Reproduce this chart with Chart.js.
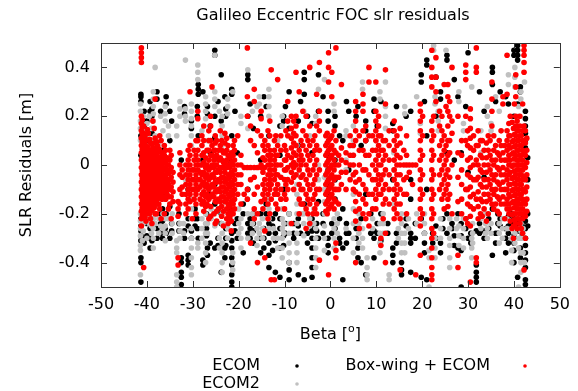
<!DOCTYPE html>
<html>
<head>
<meta charset="utf-8">
<script src="https://cdn.jsdelivr.net/npm/chart.js@4.4.1/dist/chart.umd.min.js"></script>
<style>
    html, body { margin: 0; padding: 0; background: #fff; }
    #wrap { width: 578px; height: 391px; }
</style>
</head>
<body>
<div id="wrap"><canvas id="slrChart" width="578" height="391"></canvas></div>
<script>
// tick values
const xTicks = [-50, -40, -30, -20, -10, 0, 10, 20, 30, 40, 50];
const yTicks = [-0.4, -0.2, 0, 0.2, 0.4];

// each stripe: [beta, residual, residual, ...] (one pass at about the same beta)
const ecomStripes = [
    [-41.3, 0.29, 0.28, 0.26, 0.12, 0.04, -0.22, -0.25, -0.27, -0.29, -0.31, -0.38, -0.4, -0.48],
    [-40.6, 0.22, 0.16, -0.18, -0.21, -0.3, -0.32],
    [-40.0, 0.18, 0.1, 0.0, -0.1, -0.14, -0.2, -0.24, -0.29],
    [-39.3, 0.26, 0.22, -0.26, -0.3, -0.34],
    [-38.9, 0.23, 0.2, 0.13, -0.16, -0.22, -0.31],
    [-37.8, 0.3, 0.27, 0.09, -0.14, -0.26, -0.3],
    [-37.0, 0.22, -0.2, -0.24, -0.28],
    [-36.6, 0.06, -0.18, -0.23, -0.3],
    [-36.0, -0.12, -0.26],
    [-35.8, 0.28, 0.25, -0.2, -0.28],
    [-35.0, 0.22, 0.1, -0.17, -0.3],
    [-34.6, 0.18, -0.24, -0.27],
    [-33.0, -0.2, -0.24, -0.27],
    [-32.5, 0.02, -0.38, -0.4, -0.44, -0.46, -0.49],
    [-31.8, 0.24, 0.21, -0.27, -0.3],
    [-31.0, -0.1, -0.22, -0.25, -0.37, -0.39, -0.41],
    [-30.3, 0.18, 0.15, -0.27, -0.3],
    [-29.5, -0.18, -0.22, -0.25],
    [-29.0, 0.24, 0.2, -0.22, -0.26],
    [-28.8, 0.33, 0.31, 0.29, 0.12, -0.3],
    [-27.8, 0.3, 0.02, -0.39, -0.41],
    [-27.0, -0.2, -0.26, -0.29],
    [-26.8, 0.24, 0.21, -0.34, -0.37],
    [-26.2, 0.16, 0.05, -0.12, -0.32],
    [-25.2, 0.47, 0.45, 0.2, 0.11, -0.08, -0.16, -0.34],
    [-24.5, 0.26, -0.3, -0.33],
    [-23.8, 0.37, 0.18, -0.2, -0.24, -0.44],
    [-23.0, 0.28, -0.34, -0.38],
    [-22.8, 0.23, 0.2, -0.26, -0.3, -0.33],
    [-22.0, 0.02, -0.18, -0.22],
    [-21.5, 0.31, 0.29, 0.12, -0.28, -0.31, -0.34, -0.38, -0.41, -0.45, -0.48, -0.5],
    [-20.8, 0.22, -0.24, -0.27],
    [-20.3, 0.05, -0.22, -0.3],
    [-19.0, -0.16, -0.2, -0.36],
    [-18.0, 0.37, 0.35, 0.2, -0.1, -0.24, -0.28],
    [-17.5, 0.25, -0.22, -0.26, -0.3],
    [-16.8, 0.15, -0.2, -0.24, -0.27, -0.32],
    [-15.2, 0.2, 0.02, -0.2, -0.3, -0.36],
    [-14.5, 0.28, -0.26, -0.3, -0.34],
    [-14.0, 0.24, -0.16, -0.2],
    [-13.4, 0.12, -0.24, -0.28, -0.32, -0.37, -0.42],
    [-12.6, -0.22, -0.25, -0.35],
    [-12.0, -0.2, -0.28, -0.31, -0.44],
    [-11.0, 0.16, 0.04, -0.22, -0.26, -0.34, -0.46],
    [-10.2, 0.2, 0.18, -0.1, -0.29, -0.33],
    [-9.8, 0.24, -0.24, -0.28],
    [-9.0, 0.3, 0.15, -0.2, -0.4, -0.43, -0.47],
    [-8.0, -0.24, -0.28, -0.3],
    [-7.0, 0.18, 0.08, -0.22, -0.25, -0.45],
    [-6.5, 0.26, -0.28],
    [-5.7, 0.38, 0.35, 0.29, -0.16, -0.47],
    [-5.0, 0.2, -0.28, -0.32],
    [-4.0, 0.17, 0.05, -0.22, -0.25, -0.27, -0.3, -0.34, -0.38, -0.42, -0.46],
    [-3.0, -0.24, -0.27, -0.3],
    [-2.6, 0.37, 0.22, -0.15, -0.3],
    [-1.6, 0.28, -0.2, -0.24, -0.28],
    [-0.5, 0.22, 0.18, 0.04, -0.02, -0.08, -0.12, -0.3, -0.33, -0.36],
    [0.3, -0.24, -0.28],
    [1.0, 0.2, 0.16, 0.02, -0.06, -0.14, -0.26],
    [2.0, 0.12, -0.22, -0.3, -0.32],
    [2.7, 0.1, -0.18, -0.34, -0.47],
    [3.5, 0.26, -0.24, -0.28, -0.32],
    [4.0, 0.22, -0.02, -0.28],
    [5.6, 0.2, -0.26, -0.3],
    [6.0, 0.24, -0.34, -0.38],
    [6.7, 0.08, -0.22, -0.4],
    [7.7, 0.18, 0.14, 0.1, -0.12, -0.45],
    [8.8, -0.2, -0.28],
    [9.5, 0.27, 0.22, -0.27, -0.3, -0.38],
    [10.2, 0.16, -0.24, -0.28],
    [11.0, 0.26, -0.2, -0.31],
    [12.5, -0.24, -0.28],
    [13.6, 0.17, 0.14, -0.06, -0.34, -0.37, -0.4],
    [14.4, 0.24, -0.28, -0.32],
    [15.5, -0.4, -0.43, -0.45],
    [16.5, 0.2, -0.22, -0.25],
    [17.5, 0.22, -0.06, -0.14, -0.28, -0.3, -0.32, -0.44],
    [18.5, -0.24, -0.3],
    [19.8, 0.37, 0.34, -0.22, -0.46],
    [20.5, 0.26, -0.28, -0.32, -0.36],
    [21.0, 0.43, 0.41, 0.12, -0.1, -0.47],
    [22.3, -0.28, -0.32],
    [23.0, 0.36, 0.2, -0.25, -0.3],
    [24.0, 0.3, 0.27, -0.32, -0.36],
    [24.5, -0.22, -0.26],
    [25.4, 0.45, 0.43, 0.05, -0.2, -0.28],
    [26.5, -0.24, -0.26],
    [27.0, 0.35, 0.02, -0.29, -0.33],
    [27.8, 0.28, -0.2, -0.34],
    [28.5, 0.05, -0.24, -0.29, -0.35, -0.5],
    [29.5, 0.24, -0.22, -0.26],
    [30.0, 0.46, -0.03, -0.3],
    [30.6, -0.28, -0.32],
    [31.8, -0.27, -0.41, -0.44, -0.46, -0.48],
    [32.5, 0.3, -0.24, -0.28],
    [33.5, 0.22, -0.05, -0.27, -0.3],
    [34.5, -0.22, -0.26],
    [35.3, 0.4, 0.38, 0.33, -0.18, -0.37],
    [36.0, 0.26, -0.28, -0.32],
    [36.5, -0.2, -0.24, -0.28],
    [37.0, 0.3, -0.22, -0.25],
    [38.2, 0.28, -0.26, -0.3, -0.36],
    [38.8, 0.25, -0.21, -0.25, -0.28, -0.32],
    [39.4, -0.2, -0.24],
    [40.0, 0.47, 0.45, 0.2, -0.22, -0.29, -0.32, -0.35, -0.4],
    [40.8, 0.49, 0.47, 0.45, 0.43, 0.25, -0.24, -0.27, -0.46],
    [41.4, 0.32, 0.3, -0.3, -0.34, -0.38],
    [41.8, -0.22, -0.25, -0.28, -0.3],
    [42.5, 0.22, 0.19, 0.16, 0.13, 0.1, 0.07, -0.23, -0.26, -0.3, -0.33, -0.36, -0.39, -0.42, -0.47, -0.49],
    [43.0, 0.03, -0.06, -0.2, -0.25]
];

const ecom2Stripes = [
    [-41.4, 0.25, 0.22, 0.18, 0.15, 0.1, -0.2, -0.23, -0.26, -0.29, -0.33, -0.35, -0.45],
    [-41.0, -0.18, -0.22, -0.31],
    [-40.8, 0.2, 0.14, 0.08, -0.16, -0.24, -0.27],
    [-40.0, 0.17, 0.12, -0.22, -0.3],
    [-39.5, 0.2, -0.2, -0.24],
    [-39.0, 0.15, 0.1, -0.18, -0.25, -0.28],
    [-38.6, 0.3, 0.27, 0.24, 0.21, 0.18, -0.22, -0.26, -0.3, -0.34],
    [-38.2, 0.4, 0.12, -0.2, -0.24],
    [-37.4, 0.08, -0.17, -0.22, -0.28],
    [-37.0, 0.2, -0.25],
    [-36.5, 0.14, -0.2, -0.26],
    [-36.0, 0.24, 0.21, 0.18, -0.22, -0.25, -0.28, -0.31],
    [-35.3, 0.16, 0.12, -0.22],
    [-34.5, -0.2, -0.24, -0.28],
    [-33.5, 0.16, 0.12, -0.31, -0.34, -0.36, -0.45, -0.48, -0.5],
    [-32.8, 0.26, 0.23, 0.2, -0.24, -0.27, -0.3],
    [-32.0, -0.24, -0.28],
    [-31.6, 0.43, 0.23, 0.2, 0.18, -0.06],
    [-30.3, 0.25, 0.22, 0.19, 0.16, 0.12, 0.08, -0.14, -0.18, -0.22, -0.26, -0.3, -0.34, -0.38, -0.42, -0.45],
    [-28.9, 0.41, 0.38, 0.35, -0.32, -0.34],
    [-28.0, 0.14, -0.22, -0.26, -0.3],
    [-27.2, 0.28, 0.25, 0.22, 0.19, -0.2, -0.24, -0.28, -0.32, -0.36, -0.4],
    [-26.8, 0.1, -0.24, -0.28],
    [-26.0, -0.18, -0.22],
    [-25.2, 0.45, 0.3, 0.27, 0.24, -0.2, -0.25],
    [-24.2, 0.22, -0.3, -0.34],
    [-23.6, 0.2, 0.16, 0.12, 0.08, -0.12, -0.16, -0.2, -0.24, -0.28, -0.32, -0.36, -0.4, -0.44],
    [-22.4, 0.27, 0.24, 0.21, -0.22, -0.26, -0.3],
    [-21.3, 0.3, -0.36, -0.4, -0.43],
    [-20.0, -0.18, -0.24, -0.28],
    [-19.5, 0.2, 0.17, -0.22, -0.26, -0.3, -0.34],
    [-18.0, 0.39, 0.15, -0.2, -0.3],
    [-17.0, 0.22, -0.2, -0.24, -0.28],
    [-16.0, 0.24, -0.26, -0.3, -0.33],
    [-15.5, 0.28, 0.25, -0.24, -0.28],
    [-14.8, -0.22, -0.26, -0.3],
    [-13.4, 0.31, 0.28, 0.24, 0.2, -0.14, -0.18, -0.22, -0.26],
    [-12.4, -0.26, -0.3],
    [-11.5, 0.1, -0.3, -0.34],
    [-10.5, 0.2, 0.16, -0.18, -0.22, -0.26, -0.3, -0.34, -0.38],
    [-10.2, -0.24, -0.28],
    [-9.0, 0.12, -0.2, -0.24, -0.28, -0.32, -0.36, -0.4],
    [-7.3, 0.08, 0.04, 0.0, -0.04, -0.08, -0.12, -0.16, -0.2, -0.24, -0.28, -0.32, -0.36, -0.4],
    [-6.2, -0.16, -0.2],
    [-5.8, 0.22, -0.2, -0.24, -0.29],
    [-4.5, 0.12, -0.1, -0.22, -0.25],
    [-3.6, -0.18, -0.24],
    [-3.2, 0.2, 0.17, -0.26, -0.3, -0.34, -0.38, -0.42],
    [-2.6, 0.31, 0.06, 0.0, -0.06],
    [-1.3, 0.35, -0.05, -0.1, -0.15, -0.2, -0.25, -0.3, -0.35],
    [0.8, 0.25, 0.22, -0.22, -0.26, -0.3, -0.34],
    [1.5, -0.2, -0.24, -0.28],
    [3.4, 0.14, 0.12, 0.02, -0.02, -0.26],
    [5.0, 0.16, 0.1, 0.04, -0.04, -0.12, -0.18, -0.24, -0.3, -0.36],
    [6.2, -0.2, -0.24, -0.28, -0.32],
    [7.0, 0.34, 0.31, -0.26, -0.3, -0.34],
    [8.0, -0.38, -0.42, -0.45, -0.47],
    [9.2, -0.22, -0.26],
    [10.0, 0.1, 0.06, 0.02],
    [10.8, 0.3, 0.27, -0.24, -0.28, -0.32, -0.36],
    [11.5, -0.2, -0.24, -0.28],
    [12.0, 0.34, 0.24, 0.2, 0.15],
    [12.8, -0.45, -0.47],
    [13.8, 0.05, -0.02, -0.1, -0.16],
    [14.8, -0.26, -0.3],
    [15.5, -0.2, -0.24, -0.28, -0.32, -0.36],
    [16.2, 0.24, 0.21, -0.28, -0.32, -0.36],
    [17.0, -0.22, -0.26],
    [18.8, 0.28, -0.2, -0.24],
    [19.6, 0.17, 0.13],
    [20.5, -0.2, -0.24, -0.28],
    [21.5, -0.35, -0.38, -0.5],
    [22.5, 0.49, 0.47],
    [22.8, 0.28, 0.25, -0.3, -0.34, -0.38],
    [23.5, 0.22, 0.18, 0.14],
    [24.0, -0.22, -0.26, -0.3],
    [25.2, 0.47],
    [26.0, -0.22, -0.26, -0.3, -0.33, -0.38, -0.42],
    [27.5, -0.22, -0.26],
    [28.0, 0.3, 0.26, -0.25, -0.29, -0.33],
    [29.0, 0.17, 0.14, -0.22, -0.26, -0.3, -0.34],
    [30.8, 0.32, -0.3, -0.34, -0.38],
    [31.0, -0.24, -0.28, -0.32],
    [32.8, 0.14, 0.1, 0.05, -0.22, -0.26],
    [33.8, -0.2, -0.24, -0.28],
    [34.2, 0.24, 0.2, -0.26, -0.3],
    [35.0, 0.17, 0.14, -0.24, -0.28],
    [36.0, 0.28],
    [36.8, 0.22, -0.24, -0.28, -0.32],
    [37.5, -0.22, -0.26, -0.3],
    [38.5, -0.22, -0.26],
    [38.8, 0.37, 0.33],
    [39.5, -0.26, -0.3, -0.35, -0.4],
    [40.2, 0.4, 0.36, 0.32, -0.28, -0.32],
    [41.0, 0.24, 0.2, -0.3, -0.34, -0.5],
    [41.5, 0.3, 0.27, -0.24, -0.27, -0.3, -0.36, -0.4, -0.44],
    [42.0, -0.26, -0.3, -0.36],
    [42.3, 0.34, -0.1, -0.2, -0.4]
];

const boxwingStripes = [
    [-41.2, 0.48, 0.46, 0.44, 0.42, 0.2, 0.17, 0.14, 0.11, 0.08, 0.05, 0.02, -0.01, -0.04, -0.07, -0.1, -0.13, -0.16, -0.19, -0.22, -0.25],
    [-41.0, 0.185, 0.155, 0.125, 0.095, 0.065, 0.035, 0.005, -0.025, -0.055, -0.085, -0.115, -0.145, -0.175, -0.205],
    [-40.7, 0.16, 0.13, 0.1, 0.07, 0.04, 0.01, -0.02, -0.05, -0.08, -0.11, -0.14, -0.17, -0.2, -0.42],
    [-40.4, 0.115, 0.085, 0.055, 0.025, -0.005, -0.035, -0.065, -0.095, -0.125, -0.155, -0.185, -0.215],
    [-40.2, 0.1, 0.07, 0.04, 0.01, -0.02, -0.05, -0.08, -0.11, -0.14, -0.17, -0.2, -0.23],
    [-39.9, 0.145, 0.075, 0.045, 0.015, -0.015, -0.045, -0.075, -0.105, -0.135, -0.165],
    [-39.7, 0.13, 0.06, 0.03, 0.0, -0.03, -0.06, -0.09, -0.12, -0.15, -0.18],
    [-39.4, 0.105, 0.045, 0.015, -0.015, -0.045, -0.075, -0.105, -0.135, -0.165, -0.2],
    [-39.2, 0.09, 0.06, 0.03, 0.0, -0.03, -0.06, -0.09, -0.12, -0.15, -0.19, -0.22],
    [-38.9, 0.085, 0.055, 0.025, -0.005, -0.035, -0.065, -0.095, -0.125, -0.155, -0.185, -0.24],
    [-38.7, 0.18, 0.07, 0.04, 0.01, -0.02, -0.05, -0.08, -0.11, -0.14, -0.17],
    [-38.4, 0.15, 0.09, 0.065, 0.035, 0.005, -0.025, -0.055, -0.085, -0.115, -0.145, -0.175],
    [-38.2, 0.27, 0.11, 0.05, 0.02, -0.01, -0.04, -0.07, -0.1, -0.13, -0.16, -0.2],
    [-37.9, 0.095, 0.035, 0.005, -0.025, -0.055, -0.085, -0.115, -0.145, -0.2],
    [-37.7, 0.08, 0.05, 0.02, -0.01, -0.04, -0.07, -0.1, -0.13, -0.16],
    [-37.4, 0.065, 0.015, -0.015, -0.045, -0.075, -0.105, -0.135, -0.16],
    [-37.2, 0.12, 0.06, 0.03, 0.0, -0.03, -0.06, -0.09, -0.12, -0.18],
    [-36.9, 0.1, 0.035, 0.005, -0.025, -0.055, -0.085, -0.115, -0.22],
    [-36.7, 0.05, 0.02, -0.01, -0.04, -0.07, -0.1, -0.14],
    [-36.4, 0.02, -0.01, -0.04, -0.07, -0.1, -0.13],
    [-36.2, 0.08, 0.04, 0.01, -0.02, -0.05, -0.08, -0.11, -0.2],
    [-35.9, 0.06, 0.015, -0.015, -0.045, -0.075, -0.105, -0.14],
    [-35.6, 0.03, 0.0, -0.03, -0.06, -0.09, -0.12],
    [-35.3, 0.0, -0.035, -0.08, -0.13, -0.18],
    [-35.0, 0.06, 0.02, -0.02, -0.06, -0.1, -0.16],
    [-34.7, 0.04, -0.01, -0.05, -0.09, -0.13, -0.22],
    [-34.3, -0.03, -0.07, -0.11, -0.15],
    [-33.2, -0.15, -0.18, -0.21, -0.38, -0.41],
    [-32.8, 0.05, 0.0, -0.04, -0.1, -0.16],
    [-32.3, -0.02, -0.05, -0.09, -0.12],
    [-31.5, 0.0, -0.04, -0.08, -0.12, -0.16, -0.2],
    [-31.0, 0.06, 0.02, -0.02, -0.06, -0.1, -0.14, -0.18],
    [-30.6, 0.3, 0.08, 0.04, 0.0, -0.04, -0.08, -0.12, -0.15],
    [-30.1, -0.02, -0.06, -0.1, -0.22],
    [-29.7, 0.06, 0.02, -0.02, -0.06, -0.1, -0.14],
    [-29.3, 0.1, 0.04, 0.0, -0.04, -0.08, -0.12, -0.16, -0.2],
    [-28.9, 0.22, 0.19, 0.1, 0.06, 0.02, -0.02, -0.06, -0.1],
    [-28.4, 0.0, -0.03, -0.06, -0.09, -0.14],
    [-28.0, 0.12, 0.08, 0.04, 0.0, -0.04, -0.08, -0.12, -0.16],
    [-27.6, 0.16, 0.1, 0.05, 0.01, -0.03, -0.07, -0.11, -0.15, -0.19],
    [-27.2, 0.03, -0.01, -0.05, -0.09, -0.13, -0.17],
    [-26.9, 0.06, 0.0, -0.04, -0.08, -0.12, -0.16],
    [-26.5, 0.14, 0.1, 0.06, 0.02, -0.02, -0.06, -0.1, -0.14, -0.22],
    [-26.1, 0.2, 0.16, 0.1, 0.04, -0.01, -0.05, -0.09, -0.13, -0.17, -0.21],
    [-25.8, 0.32, 0.08, 0.04, 0.0, -0.04, -0.08, -0.12],
    [-25.4, 0.06, 0.02, -0.01, -0.05, -0.09, -0.13, -0.2],
    [-25.1, 0.12, 0.09, 0.06, 0.03, 0.0, -0.03, -0.07, -0.11, -0.15, -0.24],
    [-24.8, 0.1, 0.04, 0.0, -0.03, -0.07, -0.11, -0.15, -0.19, -0.23],
    [-24.4, 0.06, 0.02, -0.02, -0.06, -0.1, -0.14, -0.18],
    [-24.0, 0.14, 0.08, 0.03, -0.01, -0.03, -0.07, -0.11, -0.15],
    [-23.7, 0.1, 0.06, 0.02, -0.01, -0.05, -0.09, -0.13, -0.17, -0.21],
    [-23.3, 0.05, 0.01, -0.01, -0.05, -0.09, -0.13, -0.19, -0.25],
    [-23.0, 0.13, 0.09, 0.05, 0.01, -0.03, -0.07, -0.11, -0.15],
    [-22.6, 0.11, 0.06, 0.02, -0.01, -0.06, -0.1, -0.14, -0.18, -0.22],
    [-22.3, 0.08, 0.04, 0.0, -0.04, -0.08, -0.12, -0.16, -0.2, -0.24],
    [-21.9, 0.03, -0.01, -0.05, -0.09, -0.13, -0.17, -0.21],
    [-21.6, 0.05, 0.01, -0.03, -0.07, -0.11, -0.15, -0.19, -0.23, -0.27],
    [-21.2, 0.08, 0.04, 0.0, -0.04, -0.08, -0.12, -0.16, -0.2],
    [-20.9, 0.1, 0.06, 0.02, -0.02, -0.06, -0.1, -0.14, -0.18],
    [-20.2, 0.12, 0.0, -0.04, -0.08, -0.12],
    [-19.5, 0.04, 0.0, -0.04, -0.08, -0.16],
    [-18.8, -0.01, -0.12],
    [-18.1, 0.48, 0.28, 0.2, -0.01, -0.1, -0.14],
    [-17.4, 0.16, 0.1, -0.01, -0.06, -0.32],
    [-16.6, 0.31, 0.26, 0.08, -0.01, -0.05, -0.12, -0.18, -0.22],
    [-15.9, 0.14, 0.05, -0.01, -0.09, -0.2, -0.4],
    [-15.1, 0.22, 0.19, 0.12, 0.0, -0.01, -0.15],
    [-14.7, 0.08, 0.03, -0.03, -0.08, -0.12, -0.18],
    [-14.3, 0.1, 0.06, 0.02, -0.01, -0.06, -0.1, -0.14, -0.27, -0.38],
    [-13.6, 0.14, 0.08, 0.04, 0.0, -0.04, -0.08, -0.12, -0.16, -0.22],
    [-13.2, 0.18, 0.12, 0.06, 0.02, -0.02, -0.06, -0.1, -0.2],
    [-12.9, 0.39, 0.04, 0.0, -0.04, -0.08, -0.14, -0.47],
    [-12.2, 0.1, 0.06, 0.02, -0.02, -0.06, -0.12, -0.47],
    [-11.9, 0.12, 0.04, 0.0, -0.04, -0.1, -0.16],
    [-11.5, 0.35, 0.08, 0.04, 0.0, -0.04, -0.08, -0.12, -0.18],
    [-10.8, 0.12, 0.06, 0.0, -0.05, -0.1, -0.14],
    [-10.0, 0.08, 0.02, -0.02, -0.06, -0.12, -0.18],
    [-9.7, 0.14, 0.06, 0.02, -0.02, -0.08, -0.14],
    [-9.3, 0.26, 0.18, 0.12, 0.04, -0.01, -0.06, -0.1],
    [-8.5, 0.2, 0.15, 0.11, 0.07, 0.03, 0.0, -0.03, -0.07, -0.24],
    [-8.0, 0.18, 0.13, 0.09, 0.05, 0.01, -0.01, -0.05, -0.1],
    [-7.5, 0.38, 0.2, 0.16, 0.12, 0.08, 0.04, 0.0, -0.04],
    [-6.8, 0.3, 0.06, 0.02, -0.02, -0.08, -0.14, -0.2],
    [-6.4, 0.1, 0.04, 0.0, -0.05, -0.1, -0.16],
    [-6.0, 0.22, 0.14, 0.08, 0.02, -0.04, -0.1, -0.16],
    [-5.3, 0.2, 0.12, 0.06, 0.0, -0.06, -0.12, -0.18, -0.26],
    [-4.9, 0.1, 0.04, -0.02, -0.08, -0.14, -0.2],
    [-4.5, 0.4, 0.16, 0.08, 0.02, -0.04, -0.1, -0.16, -0.24],
    [-3.8, 0.1, 0.04, -0.02, -0.08, -0.14, -0.2],
    [-3.4, 0.12, 0.06, 0.0, -0.06, -0.12, -0.18],
    [-3.0, 0.29, 0.16, 0.08, 0.02, -0.04, -0.1, -0.16, -0.2],
    [-2.4, 0.42, 0.22, 0.18, 0.14, 0.06, -0.02, -0.1, -0.39],
    [-1.0, 0.12, 0.08, 0.04, 0.0, -0.04, -0.08, -0.12, -0.16, -0.19],
    [-0.7, 0.13, 0.09, 0.05, 0.01, -0.03, -0.07, -0.11, -0.15, -0.2],
    [-0.4, 0.46, 0.4, 0.34, 0.1, 0.06, 0.02, -0.02, -0.06, -0.1, -0.14, -0.18, -0.45],
    [0.0, 0.11, 0.07, 0.03, -0.01, -0.05, -0.09, -0.13, -0.17],
    [0.3, 0.38, 0.28, 0.12, 0.08, 0.04, 0.0, -0.04, -0.08, -0.12, -0.16],
    [0.8, 0.14, 0.06, 0.02, -0.02, -0.06, -0.1, -0.14, -0.18],
    [1.2, 0.48, 0.1, 0.05, 0.0, -0.05, -0.1, -0.15, -0.32, -0.35, -0.38],
    [1.8, 0.04, 0.0, -0.05, -0.1, -0.16],
    [2.4, 0.33, 0.07, 0.02, -0.03, -0.08],
    [3.4, 0.05, 0.01, -0.03, -0.1],
    [4.3, 0.12, 0.08, 0.04, 0.0, -0.06],
    [5.0, 0.08, 0.04, 0.0, -0.04, -0.1],
    [5.5, 0.26, 0.22, 0.18, 0.14, 0.1, -0.03, -0.07, -0.11, -0.15, -0.19, -0.23, -0.4],
    [6.3, 0.12, 0.06, 0.0, -0.06, -0.12, -0.18, -0.26],
    [7.1, 0.29, 0.25, 0.22, 0.14, 0.06, -0.02, -0.08, -0.14, -0.2],
    [7.7, 0.16, 0.1, 0.04, -0.02, -0.1, -0.16, -0.22],
    [8.4, 0.4, 0.34, 0.12, 0.04, -0.04, -0.12, -0.2, -0.25],
    [9.2, 0.12, 0.06, 0.0, -0.06, -0.12, -0.18],
    [9.9, 0.34, 0.22, 0.18, 0.14, 0.1, 0.06, 0.02, -0.02, -0.06, -0.1, -0.14, -0.18],
    [10.5, 0.2, 0.16, 0.12, 0.08, 0.04, 0.0, -0.04, -0.08, -0.12],
    [11.0, 0.12, 0.06, 0.0, -0.06, -0.12, -0.3, -0.33],
    [11.5, 0.1, 0.06, 0.02, -0.04, -0.1, -0.16, -0.22],
    [12.0, 0.39, 0.25, 0.1, 0.04, -0.02, -0.08, -0.14, -0.28, -0.4],
    [12.8, 0.14, 0.08, 0.02, -0.04, -0.1, -0.16],
    [13.9, 0.18, 0.14, 0.1, 0.06, 0.02, -0.02, -0.06, -0.1, -0.14, -0.18, -0.22],
    [14.5, 0.12, 0.08, 0.04, 0.0, -0.04, -0.08, -0.12, -0.16, -0.2],
    [15.2, 0.15, 0.09, 0.03, 0.0, -0.04, -0.1, -0.16, -0.22, -0.43],
    [16.0, 0.06, 0.0, -0.06, -0.12],
    [16.6, 0.12, 0.04, 0.0, -0.05, -0.12, -0.2],
    [17.2, 0.0, -0.03],
    [17.9, 0.0, -0.08],
    [18.6, 0.0, -0.45],
    [19.6, 0.25, 0.22, 0.18, 0.14, 0.1, 0.06, 0.02, -0.02, -0.06, -0.1, -0.14, -0.18, -0.22, -0.25, -0.37],
    [20.1, 0.2, 0.12, 0.04, -0.04, -0.12, -0.2],
    [22.1, 0.47, 0.4, 0.36, 0.32, 0.18, 0.14, 0.1, 0.06, 0.02, -0.02, -0.06, -0.1, -0.14, -0.18, -0.22, -0.26, -0.3, -0.34, -0.38, -0.42, -0.45, -0.47],
    [22.5, 0.2, 0.12, 0.04, -0.04, -0.12, -0.2, -0.28],
    [23.0, 0.44, 0.36, 0.3, 0.26],
    [23.8, 0.22, 0.16, 0.08, 0.02, -0.04, -0.1],
    [24.3, 0.2, 0.14, 0.1, 0.04, -0.02, -0.08, -0.14],
    [24.8, 0.33, 0.12, 0.06, 0.0, -0.06, -0.12, -0.18],
    [25.2, 0.24, 0.08, 0.02, -0.04, -0.1],
    [25.6, 0.33, 0.28, 0.22, 0.16, 0.1, 0.04, -0.02, -0.08, -0.14, -0.17],
    [26.0, 0.26, 0.2, 0.1, 0.05, -0.05, -0.12],
    [26.5, 0.4, 0.18, 0.13, 0.0, -0.2],
    [27.8, 0.2, 0.05, -0.05, -0.15, -0.37, -0.42],
    [28.6, 0.1, 0.04, -0.02, -0.08, -0.14, -0.2],
    [29.5, 0.41, 0.38, 0.35, 0.2, 0.1, -0.1, -0.22],
    [29.9, 0.14, 0.08, 0.02, -0.04, -0.1, -0.16, -0.24],
    [30.5, 0.23, 0.19, 0.15, 0.11, 0.07, 0.03, -0.01, -0.05, -0.09, -0.13, -0.17, -0.21, -0.25, -0.48],
    [31.2, 0.12, 0.06, 0.0, -0.06, -0.12, -0.18],
    [31.8, 0.48, 0.4, 0.38, 0.08, 0.02, -0.06, -0.14, -0.38, -0.4],
    [32.2, 0.14, 0.08, 0.0, -0.05, -0.11, -0.17, -0.22],
    [32.7, 0.1, 0.04, -0.02, -0.08, -0.14, -0.2],
    [33.1, 0.1, 0.03, -0.03, -0.09, -0.15, -0.21],
    [33.5, 0.06, 0.0, -0.06, -0.12, -0.18],
    [34.0, 0.09, 0.03, -0.03, -0.09, -0.15, -0.23],
    [34.4, 0.12, 0.06, 0.0, -0.06, -0.12, -0.2],
    [34.8, 0.1, 0.04, -0.02, -0.08, -0.14],
    [35.2, 0.34, 0.27, 0.22, 0.16, 0.02, -0.04, -0.1, -0.16],
    [35.6, 0.12, 0.06, 0.0, -0.06, -0.12, -0.18],
    [36.0, 0.08, 0.02, -0.04, -0.1, -0.16],
    [36.4, 0.05, -0.01, -0.07, -0.13, -0.19],
    [36.8, 0.1, 0.04, -0.02, -0.08, -0.14, -0.2],
    [37.2, 0.14, 0.08, 0.02, -0.04, -0.1, -0.16],
    [37.6, 0.28, 0.25, 0.05, -0.01, -0.07, -0.13],
    [38.0, 0.08, 0.02, -0.04, -0.1, -0.16, -0.22],
    [38.5, 0.45, 0.29, 0.14, 0.1, 0.06, 0.02, -0.02, -0.06, -0.1, -0.14, -0.18],
    [38.9, 0.17, 0.12, 0.08, 0.04, 0.0, -0.04, -0.08, -0.12, -0.16, -0.2],
    [39.2, 0.2, 0.12, 0.07, 0.02, -0.03, -0.08, -0.13, -0.18, -0.23],
    [39.6, 0.175, 0.095, 0.045, -0.005, -0.055, -0.105, -0.155, -0.205, -0.26],
    [39.9, 0.15, 0.1, 0.05, 0.0, -0.05, -0.1, -0.15, -0.2, -0.25, -0.3],
    [40.1, 0.25, 0.125, 0.075, 0.025, -0.025, -0.075, -0.125, -0.175, -0.225],
    [40.4, 0.37, 0.32, 0.28, 0.2, 0.16, 0.12, 0.08, 0.04, 0.0, -0.04, -0.08, -0.12, -0.16, -0.2, -0.24],
    [40.7, 0.18, 0.14, 0.1, 0.06, 0.02, -0.02, -0.06, -0.1, -0.14, -0.18, -0.22, -0.26],
    [41.0, 0.14, 0.1, 0.06, 0.02, -0.02, -0.06, -0.1, -0.14, -0.18, -0.22],
    [41.3, 0.2, 0.16, 0.12, 0.08, 0.04, 0.0, -0.04, -0.08, -0.12, -0.16, -0.2, -0.24],
    [41.6, 0.12, 0.08, 0.04, 0.0, -0.04, -0.08, -0.12, -0.16, -0.2, -0.26],
    [41.9, 0.25, 0.14, 0.1, 0.06, 0.02, -0.02, -0.06, -0.1, -0.14, -0.18, -0.22, -0.28],
    [42.2, 0.49, 0.47, 0.45, 0.42, 0.38, 0.16, 0.1, 0.05, 0.0, -0.05, -0.1, -0.15, -0.2, -0.43],
    [42.5, 0.14, 0.09, 0.04, -0.01, -0.06, -0.11, -0.16, -0.21, -0.3],
    [42.8, 0.11, 0.06, 0.01, -0.04, -0.09, -0.14, -0.19]
];

const FONT = 'DejaVu Sans';

function toPoints(stripes) {
    const pts = [];
    stripes.forEach(s => {
        for (let i = 1; i < s.length; i++) {
            pts.push({ x: s[0], y: s[i] });
        }
    });
    return pts;
}

// рамка, внутренние риски, подписи и легенда в стиле gnuplot
const gnuplotFrame = {
    id: 'gnuplotFrame',
    afterDraw(chart) {
        const ctx = chart.ctx;
        const a = chart.chartArea;
        const xs = chart.scales.x;
        const ys = chart.scales.y;
        ctx.save();
        ctx.strokeStyle = '#333';
        ctx.lineWidth = 1;
        ctx.strokeRect(Math.round(a.left) + 0.5, Math.round(a.top) + 0.5,
            Math.round(a.right - a.left), Math.round(a.bottom - a.top));

        ctx.beginPath();
        xTicks.forEach(v => {
            const px = Math.round(xs.getPixelForValue(v)) + 0.5;
            ctx.moveTo(px, a.bottom); ctx.lineTo(px, a.bottom - 6);
            ctx.moveTo(px, a.top); ctx.lineTo(px, a.top + 6);
        });
        yTicks.forEach(v => {
            const py = Math.round(ys.getPixelForValue(v)) + 0.5;
            ctx.moveTo(a.left, py); ctx.lineTo(a.left + 6, py);
            ctx.moveTo(a.right, py); ctx.lineTo(a.right - 6, py);
        });
        ctx.stroke();

        ctx.fillStyle = '#000';
        ctx.font = '16px "' + FONT + '"';
        ctx.textBaseline = 'middle';
        ctx.textAlign = 'center';
        ctx.fillText('Galileo Eccentric FOC slr residuals', 333, 16);

        // Beta [°] с надстрочным "o"
        const cx = (a.left + a.right) / 2;
        const w1 = ctx.measureText('Beta [').width;
        ctx.font = '11px "' + FONT + '"';
        const w2 = ctx.measureText('o').width;
        ctx.font = '16px "' + FONT + '"';
        const w3 = ctx.measureText(']').width;
        const x0 = cx - (w1 + w2 + w3) / 2;
        ctx.textAlign = 'left';
        ctx.fillText('Beta [', x0, 335);
        ctx.font = '11px "' + FONT + '"';
        ctx.fillText('o', x0 + w1, 329);
        ctx.font = '16px "' + FONT + '"';
        ctx.fillText(']', x0 + w1 + w2, 335);

        ctx.save();
        ctx.translate(27, (a.top + a.bottom) / 2);
        ctx.rotate(-Math.PI / 2);
        ctx.textAlign = 'center';
        ctx.fillText('SLR Residuals [m]', 0, 0);
        ctx.restore();

        // легенда
        ctx.textAlign = 'right';
        ctx.fillText('ECOM', 260, 366);
        ctx.fillText('ECOM2', 260, 384);
        ctx.fillText('Box-wing + ECOM', 490, 366);
        [[297, 366, '#000000'], [297, 384, '#c0c0c0'], [525, 366, '#ff0000']].forEach(d => {
            ctx.fillStyle = d[2];
            ctx.beginPath();
            ctx.arc(d[0], d[1], 1.8, 0, Math.PI * 2);
            ctx.fill();
        });
        ctx.restore();
    }
};

const pointStyle = {
    pointRadius: 2.8,
    pointHoverRadius: 2.8,
    pointBorderWidth: 0,
    showLine: false
};

new Chart(document.getElementById('slrChart'), {
    type: 'scatter',
    data: {
        datasets: [
            Object.assign({ label: 'Box-wing + ECOM', data: toPoints(boxwingStripes), backgroundColor: '#ff0000', order: 0 }, pointStyle),
            Object.assign({ label: 'ECOM2', data: toPoints(ecom2Stripes), backgroundColor: '#c0c0c0', order: 1 }, pointStyle),
            Object.assign({ label: 'ECOM', data: toPoints(ecomStripes), backgroundColor: '#000000', order: 2 }, pointStyle)
        ]
    },
    options: {
        responsive: false,
        animation: false,
        devicePixelRatio: 1,
        layout: { padding: { top: 43, right: 13, left: 0, bottom: 0 } },
        plugins: {
            legend: { display: false },
            title: { display: false },
            tooltip: { enabled: false }
        },
        scales: {
            x: {
                type: 'linear',
                min: -50,
                max: 50,
                afterBuildTicks: scale => { scale.ticks = xTicks.map(v => ({ value: v })); },
                afterFit: scale => { scale.height = 104; },
                ticks: { color: '#000', font: { family: FONT, size: 16 }, padding: 8, maxRotation: 0, autoSkip: false },
                grid: { display: false, drawTicks: false },
                border: { display: false }
            },
            y: {
                type: 'linear',
                min: -0.5,
                max: 0.5,
                afterBuildTicks: scale => { scale.ticks = yTicks.map(v => ({ value: v })); },
                afterFit: scale => { scale.width = 101; },
                ticks: {
                    color: '#000',
                    font: { family: FONT, size: 16 },
                    padding: 11,
                    callback: v => String(Math.round(v * 10) / 10)
                },
                grid: { display: false, drawTicks: false },
                border: { display: false }
            }
        }
    },
    plugins: [gnuplotFrame]
});
</script>
</body>
</html>
